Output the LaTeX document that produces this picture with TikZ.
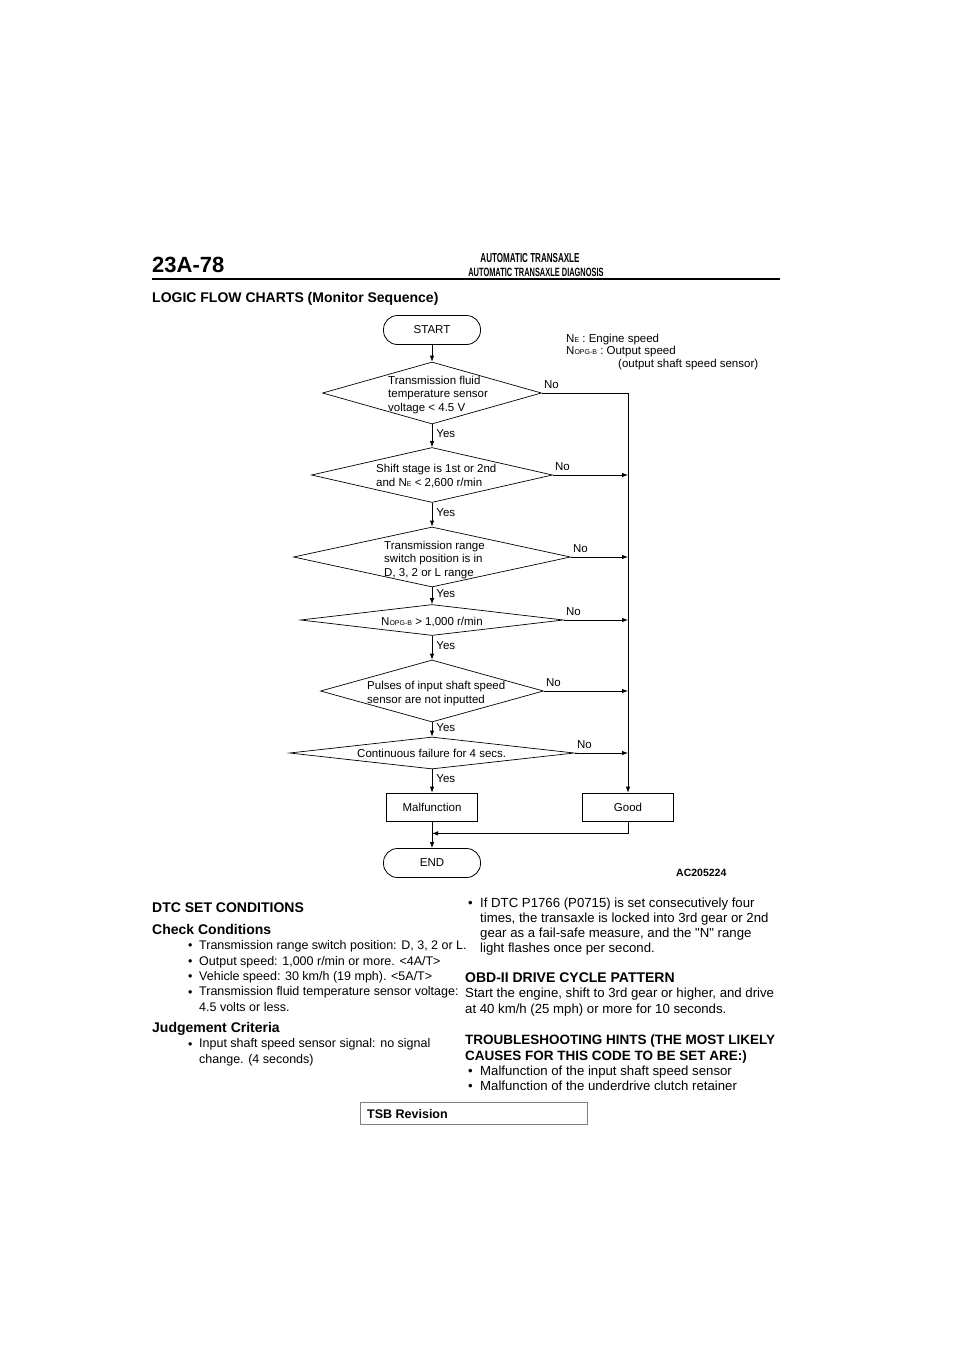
\documentclass[tikz,border=0pt]{standalone}
\usepackage{fontspec}
\setmainfont{Liberation Sans}
\newfontfamily\narrowfont[FakeStretch=0.62]{Liberation Sans}
\usetikzlibrary{arrows.meta,positioning,shapes.geometric,calc}
\newcommand{\sbs}[1]{{\fontsize{7}{8}\selectfont #1}}

\begin{document}
\begin{tikzpicture}[x=1pt,y=-1pt,
    every node/.style={font=\fontsize{11.5}{13.5}\selectfont, inner sep=0pt},
    line/.style={line width=0.8pt},
    flow/.style={line, -{Latex[length=6pt,width=4.5pt]}},
    decision/.style={diamond, draw, line width=0.7pt},
    terminal/.style={rectangle, rounded corners=14pt, draw, line width=0.8pt,
        minimum width=97pt, minimum height=29pt},
    process/.style={rectangle, draw, line width=0.7pt, minimum width=91pt, minimum height=28pt},
    chtext/.style={anchor=base west, align=left},
    yes/.style={pos=0.4, anchor=west, xshift=4pt},
    no/.style={anchor=south west, xshift=2pt, yshift=4pt},
    body/.style={anchor=base west, align=left, font=\fontsize{12.5}{15.3}\selectfont},
    rbody/.style={body, font=\fontsize{13.2}{15.2}\selectfont},
    head/.style={anchor=base west, align=left, font=\fontsize{14}{15.3}\selectfont\bfseries},
  ]
  \fill[white] (0,0) rectangle (960,1358);

  % page header
  \node[anchor=base west, font=\bfseries\fontsize{22}{24}\selectfont] (page) at (152,272) {23A-78};
  \node[anchor=base, font=\narrowfont\bfseries\fontsize{13}{14}\selectfont] (title) at (530,262) {AUTOMATIC TRANSAXLE};
  \node[anchor=base, font=\narrowfont\bfseries\fontsize{12}{13}\selectfont] (subtitle) at (536,276) {AUTOMATIC TRANSAXLE DIAGNOSIS};
  \draw[line width=2pt] (152,279) -- (780,279);
  \node[head] (logic) at (152,302) {LOGIC FLOW CHARTS (Monitor Sequence)};

  % flow chart
  \node[terminal] (start) at (432,330) {START};
  \node[decision, minimum width=219pt, minimum height=62pt] (d1) at (432,393) {};
  \node[decision, minimum width=241pt, minimum height=55pt] (d2) at (432,475) {};
  \node[decision, minimum width=277pt, minimum height=60pt] (d3) at (432,557) {};
  \node[decision, minimum width=263pt, minimum height=31pt] (d4) at (432,620) {};
  \node[decision, minimum width=223pt, minimum height=62pt] (d5) at (432,691) {};
  \node[decision, minimum width=285pt, minimum height=32pt] (d6) at (432,753) {};
  \node[process] (mal) at (432,807) {Malfunction};
  \node[process] (good) at (628,807) {Good};
  \node[terminal] (end) at (432,863) {END};

  % texts in the diamonds (base = last line)
  \node[chtext] at (388,411) {Transmission fluid\\temperature sensor\\voltage < 4.5 V};
  \node[chtext] at (376,486) {Shift stage is 1st or 2nd\\and N\sbs{E} < 2,600 r/min};
  \node[chtext] at (384,576) {Transmission range\\switch position is in\\D, 3, 2 or L range};
  \node[chtext] at (381,625) {N\sbs{OPG-B} > 1,000 r/min};
  \node[chtext] at (367,703) {Pulses of input shaft speed\\sensor are not inputted};
  \node[chtext] at (357,757) {Continuous failure for 4 secs.};

  \draw[flow] (start) -- (d1);
  \foreach \a/\b in {d1/d2,d2/d3,d3/d4,d4/d5,d5/d6,d6/mal}
    \draw[flow] (\a.south) -- node[yes] {Yes} (\b.north);
  \foreach \d in {d1,d2,d3,d4,d5,d6}
    \node[no] at (\d.east) {No};
  \draw[flow] (d1.east) -| (good.north);
  \foreach \d in {d2,d3,d4,d5,d6}
    \draw[flow] (\d.east) -- (\d.east -| good.north);
  \coordinate (merge) at ($(mal.south)!0.45!(end.north)$);
  \draw[flow] (good.south) |- (merge);
  \draw[flow] (mal) -- (end);

  % legend
  \node[anchor=base west] (ne) at (566,342) {N\sbs{E} : Engine speed};
  \node[anchor=base west] (nopg) at (566,354) {N\sbs{OPG-B} : Output speed};
  \node[anchor=base west] (nopgtxt) at (618,367) {(output shaft speed sensor)};
  \node[anchor=base west, font=\fontsize{10.5}{12}\selectfont\bfseries] (fig) at (676,876) {AC205224};

  % left column
  \node[head] (dtc) at (152,912) {DTC SET CONDITIONS};
  \node[head] (check) at (152,934) {Check Conditions};
  \foreach \y/\t in {949/{Transmission range switch position: D, 3, 2 or L.},
      965/{Output speed: 1,000 r/min or more. <4A/T>},
      980/{Vehicle speed: 30 km/h (19 mph). <5A/T>}} {
    \node[body] at (188,\y) {•};
    \node[body] at (199,\y) {\t};
  }
  \node[body] at (188,996) {•};
  \node[body] at (199,1011) {Transmission fluid temperature sensor voltage:\\4.5 volts or less.};
  \node[head] (judge) at (152,1032) {Judgement Criteria};
  \node[body] at (188,1048) {•};
  \node[body] at (199,1063) {Input shaft speed sensor signal: no signal\\change. (4 seconds)};

  % right column
  \node[rbody] at (468,907) {•};
  \node[rbody] at (480,952.6) {If DTC P1766 (P0715) is set consecutively four\\times, the transaxle is locked into 3rd gear or 2nd\\gear as a fail-safe measure, and the \textquotedbl N\textquotedbl{} range\\light flashes once per second.};
  \node[head] (obd) at (465,982) {OBD-II DRIVE CYCLE PATTERN};
  \node[rbody] at (465,1013) {Start the engine, shift to 3rd gear or higher, and drive\\at 40 km/h (25 mph) or more for 10 seconds.};
  \node[head, font=\fontsize{13.5}{15.3}\selectfont\bfseries] (hints) at (465,1060) {TROUBLESHOOTING HINTS (THE MOST LIKELY\\CAUSES FOR THIS CODE TO BE SET ARE:)};
  \foreach \y/\t in {1075/{Malfunction of the input shaft speed sensor},
      1090/{Malfunction of the underdrive clutch retainer}} {
    \node[rbody] at (468,\y) {•};
    \node[rbody] at (480,\y) {\t};
  }

  % footer
  \node[draw=gray, line width=0.8pt, anchor=north west, minimum width=227pt, minimum height=22pt] (tsb) at (360,1102) {};
  \node[anchor=base west, font=\fontsize{12.5}{14}\selectfont\bfseries] at (367,1118) {TSB Revision};
\end{tikzpicture}
\end{document}
